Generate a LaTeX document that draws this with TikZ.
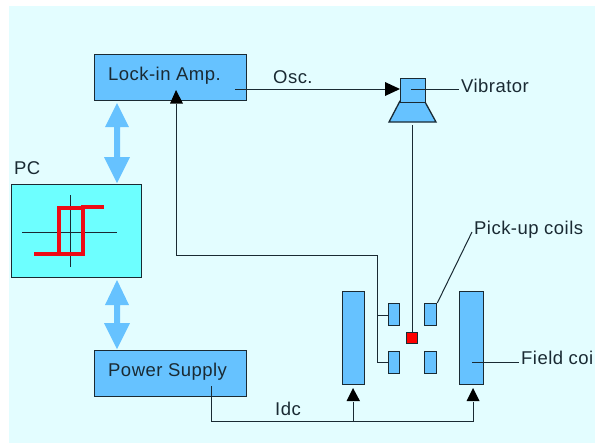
\documentclass[tikz,border=0pt]{standalone}
\usepackage{fontspec}
\setmainfont{Liberation Sans}[LetterSpace=2.5]
\definecolor{panel}{HTML}{E3FDFF}
\definecolor{boxblue}{HTML}{66C2FF}
\definecolor{pccyan}{HTML}{6DFFFF}
\definecolor{ink}{HTML}{1A2A33}
\definecolor{hyst}{HTML}{EE0A14}
\tikzset{
  box/.style={draw=ink,fill=boxblue,line width=1.3pt,inner sep=0pt,anchor=north west},
  lbl/.style={text=ink,font=\fontsize{18.5}{21}\selectfont,inner sep=0pt,anchor=base west},
  wire/.style={draw=ink,line width=1pt},
  tip/.style={fill=black,draw=none},
  bus/.style={fill=boxblue,draw=none},
}
\begin{document}
\begin{tikzpicture}[x=1pt,y=-1pt]
\useasboundingbox (0,0) rectangle (595,445);
\fill[panel] (9,6) rectangle (595,443);
% main boxes
\node[box,minimum width=152pt,minimum height=46pt] (lock) at (93.5,54) {};
\node[lbl] (locktext) at (108,80) {Lock-in Amp.};
\node[box,minimum width=152pt,minimum height=46pt] (psu) at (93.5,350) {};
\node[lbl] (psutext) at (108,376) {Power Supply};
\node[box,fill=pccyan,minimum width=130pt,minimum height=93pt] (pc) at (11,184) {};
\node[lbl] (pctext) at (14,174) {PC};
% hysteresis
\coordinate (hl) at (22,232);
\coordinate (hr) at (117,232);
\coordinate (vt) at (70,195);
\coordinate (vb) at (70,267);
\draw[wire] (hl) -- (hr);
\draw[wire] (vt) -- (vb);
\draw[hyst,line width=3.5pt,line join=miter]
  (34,254) -- (83,254) -- (83,207) -- (104,207)
  (59,254) -- (59,208) -- (83,208);
% bus arrows
\fill[bus] (117,103) -- (129,127) -- (120,127) -- (120,157) -- (130,157) -- (117,183)
  -- (104,157) -- (114,157) -- (114,127) -- (105,127) -- cycle;
\fill[bus] (117,280) -- (129,305) -- (120,305) -- (120,323) -- (130,323) -- (117,349)
  -- (104,323) -- (114,323) -- (114,305) -- (105,305) -- cycle;
% vibrator
\draw[draw=ink,fill=boxblue,line width=1.3pt] (389,122) -- (400,101) -- (424.5,101) -- (436,122) -- cycle;
\node[box,minimum width=24.5pt,minimum height=24pt] (vibhead) at (400,77.5) {};
\node[lbl] (vibtext) at (461,92) {Vibrator};
% coils
\node[box,minimum width=22.5pt,minimum height=93pt] (fieldL) at (341.5,291) {};
\node[box,minimum width=24pt,minimum height=93pt] (fieldR) at (459,291) {};
\node[box,minimum width=11pt,minimum height=22pt] (pickTL) at (388,303) {};
\node[box,minimum width=11pt,minimum height=22pt] (pickBL) at (388,350.5) {};
\node[box,minimum width=12pt,minimum height=22pt] (pickTR) at (424,303) {};
\node[box,minimum width=12pt,minimum height=22pt] (pickBR) at (424,350.5) {};
\node[box,fill=red,minimum width=11pt,minimum height=11pt] (sample) at (406,332) {};
\node[lbl] (picktext) at (474,234) {Pick-up coils};
\node[lbl] (fieldtext) at (521,364) {Field coi};
\node[lbl] (osctext) at (273,83) {Osc.};
\node[lbl] (idctext) at (275,415) {Idc};
% wires
\coordinate (oscstart) at (235,89);
\coordinate (oscend) at (386,89);
\draw[wire] (oscstart) -- (oscend);
\fill[tip] (385,82) -- (400,89) -- (385,96) -- cycle;
\draw[wire] (411,89) -- (459,89);
\draw[wire] (412,125) -- (sample.north -| 412,332);
% pick-up return
\draw[wire] (176,104) -- (176,255) -- (377,255) -- (377,362) -- (pickBL.west |- 0,362);
\draw[wire] (377,315) -- (pickTL.west |- 0,315);
\fill[tip] (176,90) -- (183,103.5) -- (170,103.5) -- cycle;
% supply
\draw[wire] (211,386) -- (211,421) -- (473,421) -- (473,402);
\draw[wire] (353,421) -- (353,402);
\fill[tip] (353,388) -- (360,401) -- (346.5,401) -- cycle;
\fill[tip] (473,388) -- (479.5,401) -- (466.5,401) -- cycle;
% leaders
\draw[wire] (pickTR.north east) -- (472,232);
\draw[wire] (472,362) -- (519,362);
\end{tikzpicture}
\end{document}
